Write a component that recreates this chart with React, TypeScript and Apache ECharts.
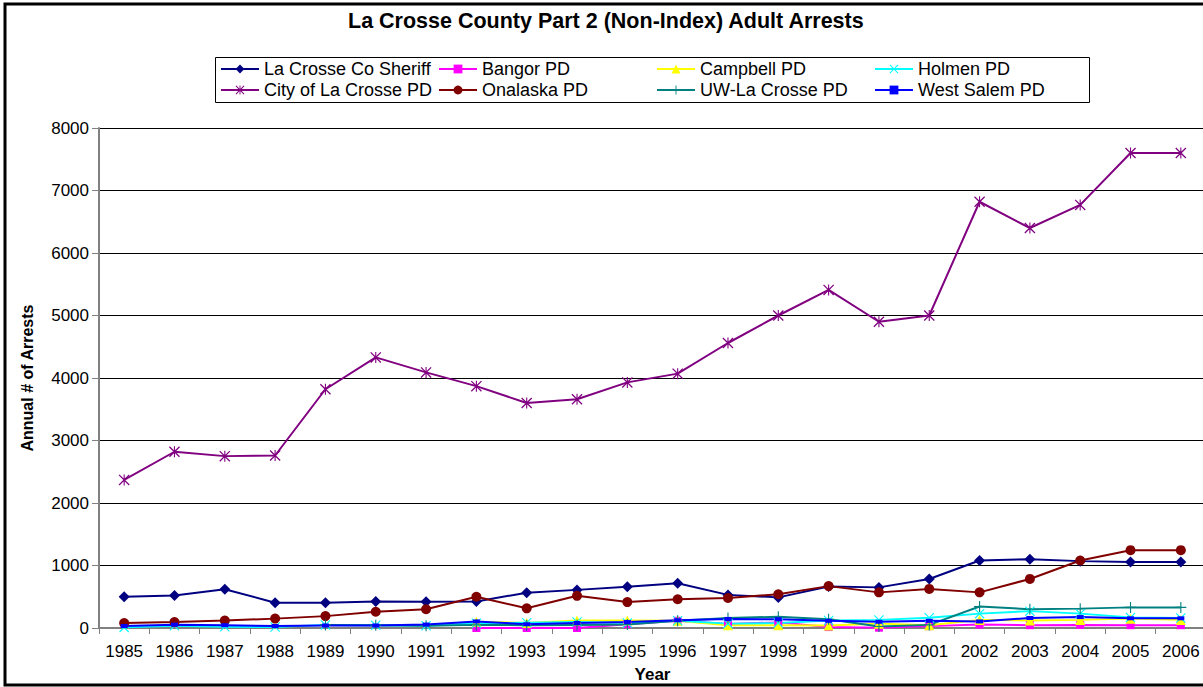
import React, { useEffect, useRef } from "react";
import * as echarts from "echarts";

const years = ["1985","1986","1987","1988","1989","1990","1991","1992","1993","1994","1995","1996","1997","1998","1999","2000","2001","2002","2003","2004","2005","2006"];
const yTicks = { min: 0, max: 8000, interval: 1000 };

const sheriff = [500,520,620,405,405,425,420,425,565,610,660,715,530,490,665,650,785,1080,1100,1070,1055,1055];
const bangor = [null,null,null,null,null,null,null,0,0,0,60,115,65,90,15,5,30,55,45,50,45,45];
const campbell = [null,null,null,null,null,null,null,100,80,120,120,115,45,45,40,70,45,130,120,130,150,130];
const holmen = [10,35,20,15,50,45,35,75,85,95,80,115,70,80,120,130,165,230,270,230,170,160];
const cityLaCrosse = [2370,2820,2750,2760,3820,4330,4090,3870,3600,3660,3930,4070,4560,5000,5410,4900,5000,6820,6400,6770,7600,7600];
const onalaska = [80,95,120,150,190,260,300,500,315,515,415,460,480,540,670,570,625,570,785,1080,1245,1245];
const uwLaCrosse = [null,null,null,null,50,45,35,50,45,50,55,115,160,180,140,25,50,345,300,310,330,330];
const westSalem = [32,53,45,32,40,40,55,105,60,80,95,125,145,140,115,100,115,105,160,175,155,155];

const FONT = "'Liberation Sans', Arial, sans-serif";

const X_PATH = "path://M0,1.6 L1.6,0 L20,18.4 L18.4,20 Z M18.4,0 L20,1.6 L1.6,20 L0,18.4 Z";
const PLUS_PATH = "path://M9,0 L11,0 L11,20 L9,20 Z M0,9 L20,9 L20,11 L0,11 Z";
const STAR_PATH = "path://M0,1.6 L1.6,0 L20,18.4 L18.4,20 Z M18.4,0 L20,1.6 L1.6,20 L0,18.4 Z M9,0 L11,0 L11,20 L9,20 Z";

export default function App() {
  const ref = useRef<HTMLDivElement>(null);
  useEffect(() => {
    document.body.style.margin = "0";
    const chart = echarts.init(ref.current!, null, { renderer: "svg" });
    const mk = (name: string, data: any[], color: string, symbol: string, symbolSize: any) => ({
      name,
      type: "line",
      data,
      color,
      symbol,
      symbolSize,
      showAllSymbol: true,
      lineStyle: { color, width: 2 },
      itemStyle: { color, borderColor: color, borderWidth: 0 },
      emphasis: { disabled: true },
    });
    const series = [
      mk("La Crosse Co Sheriff", sheriff, "#000080", "diamond", 11),
      mk("Bangor PD", bangor, "#FF00FF", "rect", 8),
      mk("Campbell PD", campbell, "#FFFF00", "triangle", 10),
      mk("Holmen PD", holmen, "#00FFFF", X_PATH, 10),
      mk("City of La Crosse PD", cityLaCrosse, "#800080", STAR_PATH, 11),
      mk("Onalaska PD", onalaska, "#800000", "circle", 10),
      mk("UW-La Crosse PD", uwLaCrosse, "#008080", PLUS_PATH, 11),
      mk("West Salem PD", westSalem, "#0000FF", "rect", [7, 4]),
    ];
    const names = series.map((s) => s.name);
    const colX = [220, 438, 656, 874];
    const rowY = [60, 81];
    const legends = names.map((n, i) => ({
      data: [n],
      left: colX[i % 4],
      top: rowY[Math.floor(i / 4)],
      padding: 0,
      itemWidth: 38,
      itemHeight: 11,
      itemGap: 0,
      selectedMode: false,
      textStyle: { fontFamily: FONT, fontSize: 18, color: "#000", padding: [0, 0, 0, 0] },
    }));
    chart.setOption({
      animation: false,
      backgroundColor: "#fff",
      title: {
        text: "La Crosse County Part 2 (Non-Index) Adult Arrests",
        left: 348,
        top: 10,
        padding: 0,
        textStyle: { fontFamily: FONT, fontSize: 21.5, fontWeight: "bold", color: "#000" },
      },
      legend: legends,
      graphic: [
        { type: "rect", shape: { x: 5, y: 4, width: 1230, height: 681 }, style: { fill: "none", stroke: "#000", lineWidth: 3 }, silent: true, z: -1 },
        { type: "rect", shape: { x: 215.5, y: 57.5, width: 874, height: 45 }, style: { fill: "none", stroke: "#000", lineWidth: 1 }, silent: true },
      ],
      grid: { left: 99, top: 128, width: 1107, height: 500, containLabel: false, outerBoundsMode: "none" },
      xAxis: {
        type: "category",
        data: years,
        boundaryGap: true,
        name: "Year",
        nameLocation: "middle",
        nameGap: 38,
        nameTextStyle: { fontFamily: FONT, fontSize: 17, fontWeight: "bold", color: "#000" },
        axisLine: { lineStyle: { color: "#808080", width: 2 } },
        axisTick: { show: true, length: 6, alignWithLabel: false, lineStyle: { color: "#808080", width: 1 } },
        axisLabel: { fontFamily: FONT, fontSize: 17, color: "#000", margin: 15, interval: 0 },
        splitLine: { show: false },
      },
      yAxis: {
        type: "value",
        min: yTicks.min,
        max: yTicks.max,
        interval: yTicks.interval,
        name: "Annual # of Arrests",
        nameLocation: "middle",
        nameRotate: 90,
        nameGap: 64,
        nameTextStyle: { fontFamily: FONT, fontSize: 16, fontWeight: "bold", color: "#000" },
        axisLine: { show: true, lineStyle: { color: "#808080", width: 2 } },
        axisTick: { show: true, length: 7, lineStyle: { color: "#808080", width: 1 } },
        axisLabel: { fontFamily: FONT, fontSize: 17, color: "#000", margin: 10, formatter: (v: number) => String(v) },
        splitLine: { show: true, lineStyle: { color: "#000", width: 1 } },
      },
      series,
    });
    return () => chart.dispose();
  }, []);
  return <div ref={ref} style={{ width: 1203, height: 687, position: "absolute", left: 0, top: 0 }} />;
}
